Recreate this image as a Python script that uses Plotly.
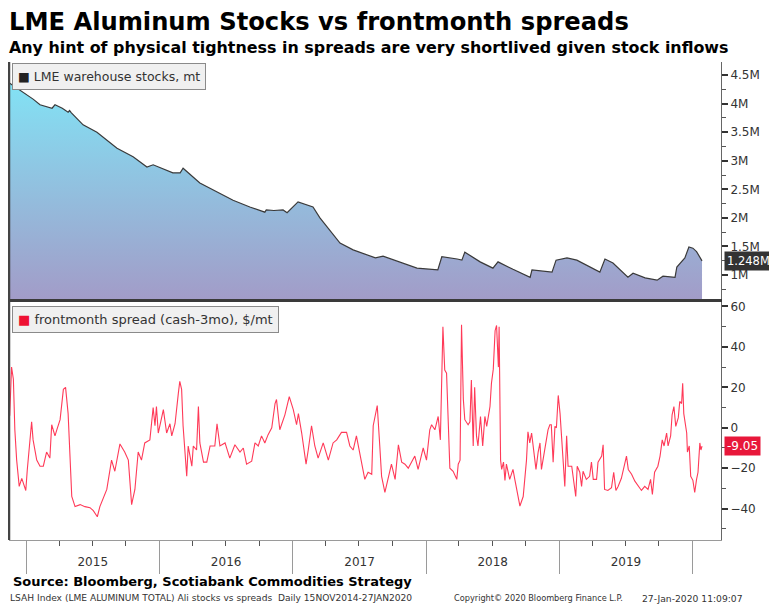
import plotly.graph_objects as go

TITLE = "LME Aluminum Stocks vs frontmonth spreads"
SUBTITLE = "Any hint of physical tightness in spreads are very shortlived given stock inflows"
STOCK_NAME = "LME warehouse stocks, mt"
SPREAD_NAME = "frontmonth spread (cash-3mo), $/mt"
SOURCE = "Source: Bloomberg, Scotiabank Commodities Strategy"
FOOT_LEFT = "LSAH Index (LME ALUMINUM TOTAL) Ali stocks vs spreads  Daily 15NOV2014-27JAN2020"
FOOT_MID = "Copyright\u00a9 2020 Bloomberg Finance L.P."
FOOT_RIGHT = "27-Jan-2020 11:09:07"

# LME warehouse stocks (million tonnes)
stock_dates = [
    "2014-11-17", "2014-12-01", "2014-12-29", "2015-01-20", "2015-02-08", "2015-03-13",
    "2015-03-21", "2015-04-10", "2015-04-26", "2015-04-30", "2015-05-05", "2015-06-06",
    "2015-07-14", "2015-08-10", "2015-09-07", "2015-10-21", "2015-11-28", "2015-12-15",
    "2016-01-10", "2016-02-07", "2016-02-27", "2016-03-06", "2016-04-21", "2016-06-07",
    "2016-07-21", "2016-09-05", "2016-10-16", "2016-10-20", "2016-11-10", "2016-12-05",
    "2016-12-16", "2017-01-15", "2017-02-10", "2017-02-25", "2017-03-16", "2017-04-21",
    "2017-05-10", "2017-06-15", "2017-08-08", "2017-08-15", "2017-09-05", "2017-10-21",
    "2017-12-07", "2018-02-02", "2018-02-13", "2018-03-27", "2018-04-09", "2018-04-17",
    "2018-05-29", "2018-07-03", "2018-07-17", "2018-08-27", "2018-10-13", "2018-10-18",
    "2018-12-12", "2018-12-23", "2019-01-22", "2019-02-18", "2019-04-22", "2019-05-06",
    "2019-05-28", "2019-07-08", "2019-07-22", "2019-08-24", "2019-09-26", "2019-10-12",
    "2019-11-14", "2019-11-19", "2019-12-11", "2019-12-22", "2020-01-02", "2020-01-12",
    "2020-01-24", "2020-01-27",
]
stock_values_m = [
    4.36, 4.30, 4.18, 4.08, 3.98, 3.92,
    3.98, 3.92, 3.85, 3.88, 3.84, 3.63,
    3.50, 3.36, 3.22, 3.07, 2.89, 2.93,
    2.86, 2.79, 2.79, 2.87, 2.61, 2.45,
    2.31, 2.19, 2.10, 2.14, 2.13, 2.14,
    2.09, 2.28, 2.23, 2.19, 2.00, 1.70,
    1.56, 1.44, 1.32, 1.30, 1.33, 1.23,
    1.12, 1.09, 1.32, 1.28, 1.26, 1.40,
    1.23, 1.12, 1.23, 1.10, 0.96, 1.09,
    1.05, 1.26, 1.30, 1.26, 1.05, 1.28,
    1.21, 0.96, 1.03, 0.95, 0.91, 0.98,
    0.96, 1.14, 1.30, 1.49, 1.47, 1.41,
    1.29, 1.248,
]

# Front-month spread, cash - 3 months ($/mt)
spread_dates = [
    # 2014-2015
    "2014-11-17", "2014-11-22", "2014-11-27", "2014-12-01", "2014-12-06", "2014-12-13",
    "2014-12-20", "2014-12-31", "2015-01-04", "2015-01-16", "2015-01-20", "2015-01-30",
    "2015-02-08", "2015-02-17", "2015-02-26", "2015-03-07", "2015-03-12", "2015-03-21",
    "2015-03-26", "2015-04-04", "2015-04-13", "2015-04-19", "2015-04-26", "2015-05-02",
    "2015-05-06", "2015-05-15", "2015-05-29", "2015-06-11", "2015-06-25", "2015-07-04",
    "2015-07-15", "2015-07-22", "2015-08-10", "2015-08-23", "2015-09-01", "2015-09-15",
    "2015-09-28", "2015-10-08", "2015-10-17", "2015-10-26", "2015-11-04", "2015-11-13",
    "2015-11-22", "2015-12-06", "2015-12-15", "2015-12-20", "2015-12-24", "2015-12-29",
    # 2016
    "2016-01-12", "2016-01-21", "2016-01-30", "2016-02-04", "2016-02-13", "2016-02-22",
    "2016-02-26", "2016-03-02", "2016-03-06", "2016-03-16", "2016-03-20", "2016-03-30",
    "2016-04-03", "2016-04-12", "2016-04-17", "2016-04-21", "2016-05-01", "2016-05-10",
    "2016-05-19", "2016-06-01", "2016-06-07", "2016-06-15", "2016-06-29", "2016-07-12",
    "2016-07-26", "2016-08-09", "2016-08-18", "2016-08-27", "2016-09-10", "2016-09-19",
    "2016-09-28", "2016-10-07", "2016-10-16", "2016-10-25", "2016-11-04", "2016-11-13",
    "2016-11-17", "2016-11-26", "2016-12-10", "2016-12-22",
    # 2017
    "2017-01-02", "2017-01-11", "2017-01-16", "2017-01-25", "2017-02-06", "2017-02-12",
    "2017-02-21", "2017-03-02", "2017-03-11", "2017-03-25", "2017-04-08", "2017-04-21",
    "2017-05-01", "2017-05-14", "2017-05-28", "2017-06-06", "2017-06-15", "2017-06-24",
    "2017-07-08", "2017-07-17", "2017-07-26", "2017-08-05", "2017-08-09", "2017-08-20",
    "2017-08-27", "2017-09-01", "2017-09-10", "2017-09-19", "2017-09-28", "2017-10-08",
    "2017-10-17", "2017-10-26", "2017-11-04", "2017-11-13", "2017-11-22", "2017-12-01",
    "2017-12-10", "2017-12-24",
    # 2018
    "2018-01-02", "2018-01-11", "2018-01-16", "2018-01-25", "2018-02-03", "2018-02-09",
    "2018-02-16", "2018-02-21", "2018-02-26", "2018-03-03", "2018-03-07", "2018-03-16",
    "2018-03-26", "2018-03-30", "2018-04-04", "2018-04-08", "2018-04-13", "2018-04-17",
    "2018-04-26", "2018-05-01", "2018-05-05", "2018-05-10", "2018-05-14", "2018-05-19",
    "2018-05-23", "2018-05-30", "2018-06-05", "2018-06-11", "2018-06-16", "2018-06-25",
    "2018-06-29", "2018-07-04", "2018-07-09", "2018-07-13", "2018-07-18", "2018-07-20",
    "2018-07-24", "2018-07-27", "2018-08-01", "2018-08-05", "2018-08-09", "2018-08-18",
    "2018-08-27", "2018-09-01", "2018-09-10", "2018-09-15", "2018-09-24", "2018-09-28",
    "2018-10-03", "2018-10-07", "2018-10-12", "2018-10-17", "2018-10-21", "2018-10-29",
    "2018-11-04", "2018-11-09", "2018-11-13", "2018-11-22", "2018-12-01", "2018-12-06",
    "2018-12-10", "2018-12-15", "2018-12-20", "2018-12-24", "2018-12-29",
    # 2019-2020
    "2019-01-03", "2019-01-07", "2019-01-12", "2019-01-16", "2019-01-21", "2019-01-25",
    "2019-02-04", "2019-02-08", "2019-02-15", "2019-02-19", "2019-02-26", "2019-03-03",
    "2019-03-07", "2019-03-16", "2019-03-25", "2019-03-30", "2019-04-04", "2019-04-13",
    "2019-04-17", "2019-04-27", "2019-05-01", "2019-05-05", "2019-05-14", "2019-05-24",
    "2019-05-30", "2019-06-05", "2019-06-11", "2019-06-20", "2019-06-27", "2019-07-04",
    "2019-07-09", "2019-07-18", "2019-07-27", "2019-08-05", "2019-08-14", "2019-08-23",
    "2019-09-01", "2019-09-08", "2019-09-13", "2019-09-19", "2019-09-28", "2019-10-04",
    "2019-10-10", "2019-10-15", "2019-10-22", "2019-10-26", "2019-11-02", "2019-11-06",
    "2019-11-11", "2019-11-16", "2019-11-23", "2019-11-27", "2019-12-02", "2019-12-05",
    "2019-12-08", "2019-12-16", "2019-12-18", "2019-12-23", "2019-12-27", "2020-01-02",
    "2020-01-07", "2020-01-12", "2020-01-16", "2020-01-21", "2020-01-24", "2020-01-27",
]
spread_values = [
    # 2014-2015
    6, 30, 24, -1, -16, -29,
    -25, -31, -21, 3, -6, -16,
    -19, -19, -12, -15, 1.5, -4,
    -1, 4, 19, 20, 7, -16,
    -34, -39, -38, -39, -39.5, -41,
    -44, -39, -30.5, -16, -21.5, -8,
    -12, -16, -38, -30.5, -12, -16,
    -7.5, -6, 10, 1, 10.5, -2.6,
    # 2016
    9, -2.6, 2, -4, 2, 17,
    23, 19, 1, -24, -9, -19,
    -9, -11, 10.5, -7.5, -17, -17,
    -9, -9, 2, -9, -7.5, -15,
    -8.4, -12, -10, -18, -16.5, -7.5,
    -9, -4, -7.5, -3.4, 0, 12,
    14, -1, 6.4, 15.4,
    # 2017
    9, 1.5, 7, -2.6, -18, -11,
    1, -9, -15, -7.5, -16, -7.5,
    -6, -2.3, -2.3, -9, -11, -4,
    -16, -25.5, -22, -23, 1, 11,
    -9, -24, -32, -25, -18, -25.5,
    -8.4, -17, -18, -20, -17, -14,
    -20.6, -10,
    # 2018
    -16, -1, 1.5, -1, 5.6, -6,
    50, 28.5, 27, -6, -20, -21.5,
    -25.5, -18, -16, 51, 14, 4,
    1.5, 3, 23.6, -9, 20, -4,
    -9, 5.6, -9, 5.6, 0.7, 10.5,
    22, 29, 48, 50.6, 30, 50,
    -16, -20.6, -17, -26, -18, -25.5,
    -20.6, -25.5, -34, -38.7, -34, -27,
    -16, -2, -7.5, -2.6, -9, -20.6,
    -12, -7.5, -20.6, -11, -1, 1.5,
    1.5, -17, 0.7, 0, 16,
    # 2019-2020
    7, -6, -17, -29, -4, -19,
    -19, -24, -34, -19, -22, -29,
    -21.5, -25.5, -24, -17, -25.5, -25.5,
    -17, -14, -8.4, -30.5, -31, -29.6,
    -22, -31, -29, -25, -20, -14,
    -20.6, -23, -26.4, -29, -31, -29,
    -30.5, -25.5, -33, -22, -19, -14,
    -6, -9, -2.6, -9, -4, 6.4,
    10.5, 0.7, 5, 13, 12, 22,
    7, -2.6, -12, -9, -24, -26,
    -32, -25.5, -22, -7.5, -11, -9.05,
]

stock_ticks = [1, 1.5, 2, 2.5, 3, 3.5, 4, 4.5]
stock_tick_labels = ["1M", "1.5M", "2M", "2.5M", "3M", "3.5M", "4M", "4.5M"]
spread_ticks = [-40, -20, 0, 20, 40, 60]
x_range = ["2014-11-15", "2020-03-19"]
stock_range = [0.58, 4.73]
spread_range = [-55.5, 62.2]

# ---- layout constants (page body adds an 8px offset) ----
W, H = 769, 601
ML, MR, MT, MB = 1, 56, 54, 69
FONT = "DejaVu Sans"
TXT = "#333333"

fig = go.Figure()

fig.add_trace(go.Scatter(
    x=stock_dates, y=stock_values_m, xaxis="x", yaxis="y",
    mode="lines", line=dict(color="#3a3a3a", width=1.2),
    fill="tozeroy",
    fillgradient=dict(type="vertical",
                      colorscale=[[0, "#a29cc8"], [1, "#7fe9f9"]],
                      start=stock_range[0], stop=stock_range[1]),
    hoverinfo="skip",
))

fig.add_trace(go.Scatter(
    x=spread_dates, y=spread_values, xaxis="x2", yaxis="y2",
    mode="lines", line=dict(color="#ff3a58", width=1.1),
    hoverinfo="skip",
))

tickfont = dict(family=FONT, size=12, color=TXT)

fig.update_layout(
    width=W, height=H,
    margin=dict(l=ML, r=MR, t=MT, b=MB),
    paper_bgcolor="white", plot_bgcolor="white",
    showlegend=False,
    xaxis=dict(domain=[0, 1], anchor="y", type="date", range=x_range,
               showticklabels=False, ticks="", showgrid=False, zeroline=False,
               showline=True, linecolor="#3a3a3a", linewidth=3),
    yaxis=dict(domain=[0.5042, 1], anchor="x", side="right", range=stock_range,
               tickvals=stock_ticks, ticktext=stock_tick_labels,
               ticks="outside", ticklen=6, tickwidth=2, tickcolor="#333",
               minor=dict(dtick=0.25, tick0=0, ticks="outside", ticklen=4,
                          tickwidth=1, tickcolor="#555"),
               tickfont=tickfont, showgrid=False, zeroline=False,
               showline=True, linecolor="#666", linewidth=1),
    xaxis2=dict(domain=[0, 1], anchor="y2", type="date", range=x_range, matches="x",
                dtick="M12", tick0="2015-01-01", tickformat="%Y",
                ticklabelmode="period", ticks="outside", ticklen=33,
                tickwidth=1, tickcolor="#9a9a9a", ticklabelstandoff=-22,
                minor=dict(dtick="M3", ticks="outside", ticklen=5,
                           tickwidth=1, tickcolor="#555"),
                tickfont=tickfont, showgrid=False, zeroline=False,
                showline=True, linecolor="#9a9a9a", linewidth=1),
    yaxis2=dict(domain=[0, 0.4979], anchor="x2", side="right", range=spread_range,
                tickvals=spread_ticks,
                ticks="outside", ticklen=6, tickwidth=2, tickcolor="#333",
                minor=dict(dtick=10, tick0=0, ticks="outside", ticklen=4,
                           tickwidth=1, tickcolor="#555"),
                tickfont=tickfont, showgrid=False, zeroline=False,
                showline=True, linecolor="#666", linewidth=1),
)

annotations = [
    dict(xref="paper", yref="paper", x=0, y=1, xanchor="left", yanchor="middle",
         xshift=-2, yshift=40, showarrow=False,
         text=f"<b>{TITLE}</b>", font=dict(family=FONT, size=24.2, color="black")),
    dict(xref="paper", yref="paper", x=0, y=1, xanchor="left", yanchor="middle",
         xshift=-2, yshift=15, showarrow=False,
         text=f"<b>{SUBTITLE}</b>", font=dict(family=FONT, size=15.9, color="black")),
    dict(xref="paper", yref="paper", x=0, y=1, xanchor="left", yanchor="top",
         xshift=3, yshift=-1, showarrow=False,
         text=f'<span style="color:#222">\u25a0</span> {STOCK_NAME}',
         font=dict(family=FONT, size=12.5, color=TXT),
         bgcolor="#f0f0f0", bordercolor="#8a8a8a", borderwidth=1, borderpad=5),
    dict(xref="paper", yref="paper", x=0, y=0.4979, xanchor="left", yanchor="top",
         xshift=3, yshift=-4, showarrow=False,
         text=f'<span style="color:#ee1133">\u25a0</span> {SPREAD_NAME}',
         font=dict(family=FONT, size=13, color=TXT),
         bgcolor="#f0f0f0", bordercolor="#8a8a8a", borderwidth=1, borderpad=5),
    dict(xref="paper", yref="y", x=1, y=stock_values_m[-1], xanchor="left",
         yanchor="middle", xshift=3, showarrow=False,
         text=f"{stock_values_m[-1]:.3f}M",
         font=dict(family=FONT, size=11.5, color="white"),
         bgcolor="#333333", borderpad=2),
    dict(xref="paper", yref="y2", x=1, y=spread_values[-1], xanchor="left",
         yanchor="middle", xshift=3, showarrow=False,
         text=f"{spread_values[-1]:.2f}",
         font=dict(family=FONT, size=12, color="white"),
         bgcolor="#e8173a", borderpad=2),
    dict(xref="paper", yref="paper", x=0, y=0, xanchor="left", yanchor="middle",
         xshift=2, yshift=-41, showarrow=False,
         text=f"<b>{SOURCE}</b>", font=dict(family=FONT, size=13, color="black")),
    dict(xref="paper", yref="paper", x=0, y=0, xanchor="left", yanchor="middle",
         xshift=-1, yshift=-58, showarrow=False,
         text=FOOT_LEFT, font=dict(family=FONT, size=9.1, color=TXT)),
    dict(xref="paper", yref="paper", x=0, y=0, xanchor="left", yanchor="middle",
         xshift=443, yshift=-58, showarrow=False,
         text=FOOT_MID, font=dict(family=FONT, size=8.2, color=TXT)),
    dict(xref="paper", yref="paper", x=0, y=0, xanchor="left", yanchor="middle",
         xshift=631, yshift=-58, showarrow=False,
         text=FOOT_RIGHT, font=dict(family=FONT, size=9.2, color=TXT)),
]
fig.update_layout(annotations=annotations)

shapes = [
    # left border of both panels
    dict(type="line", xref="paper", yref="paper", x0=0, x1=0, y0=0, y1=1,
         line=dict(color="#444", width=2.5)),
]
fig.update_layout(shapes=shapes)

fig.write_html("out.html")
